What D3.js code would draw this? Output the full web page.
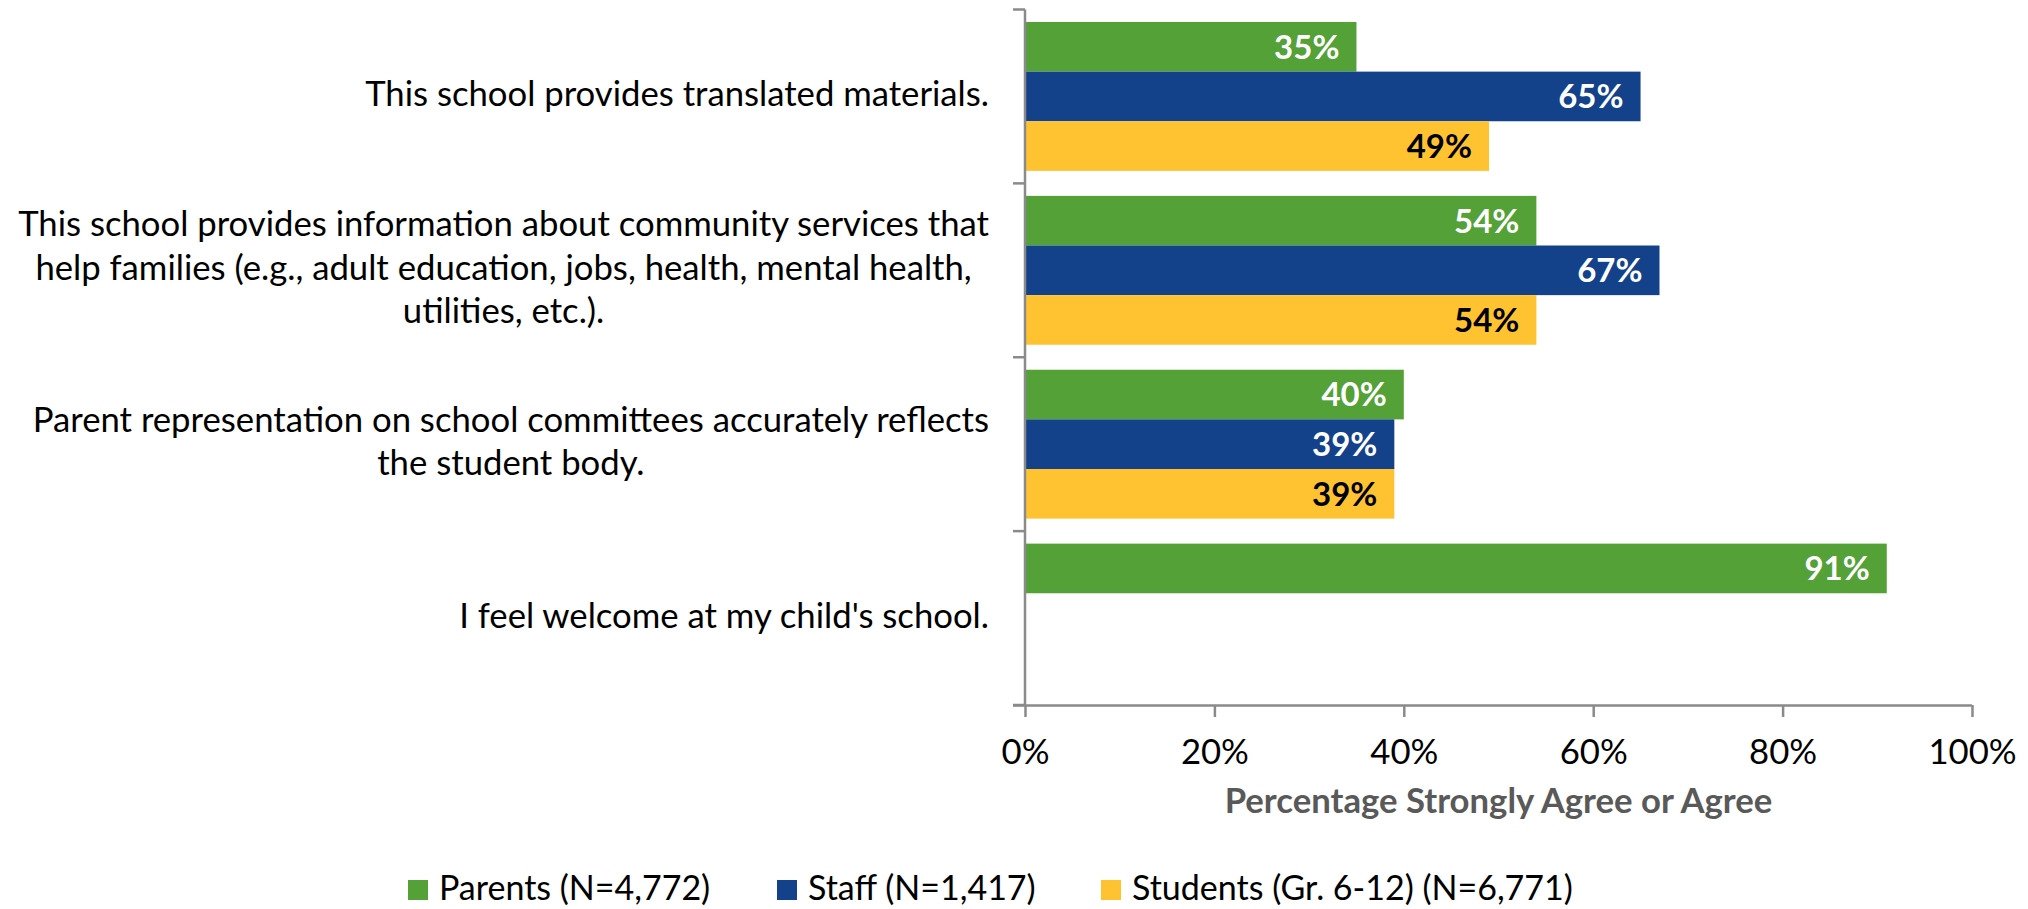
<!DOCTYPE html>
<html>
<head>
<meta charset="utf-8">
<script src="https://cdn.jsdelivr.net/npm/d3@7"></script>
<style>
  html, body { margin: 0; padding: 0; background: #ffffff; }
  svg { display: block; }
  text { font-family: Lato, "Open Sans", "DejaVu Sans", sans-serif; }
</style>
</head>
<body>
<svg id="chart" width="2028" height="909"></svg>
<script>
// ---- data ----
const categories = [
  "This school provides translated materials.",
  "This school provides information about community services that\nhelp families (e.g., adult education, jobs, health, mental health,\nutilities, etc.).",
  "Parent representation on school committees accurately reflects\nthe student body.",
  "I feel welcome at my child's school."
];
const seriesNames = ["Parents (N=4,772)", "Staff (N=1,417)", "Students (Gr. 6-12) (N=6,771)"];
const parents  = [35, 54, 40, 91];
const staff    = [65, 67, 39, null];
const students = [49, 54, 39, null];
const xTicks = [0, 20, 40, 60, 80, 100];
const xTickLabels = ["0%", "20%", "40%", "60%", "80%", "100%"];
const xAxisTitle = "Percentage Strongly Agree or Agree";

// ---- styles ----
const colors = ["#54A138", "#13428A", "#FFC331"];
const labelColors = ["#ffffff", "#ffffff", "#000000"];
const axisColor = "#8a8a8a";
const fs = 34.7;

const svg = d3.select("#chart");

const x = d3.scaleLinear().domain([0, 100]).range([1025, 1972]);
const y = d3.scaleBand().domain(d3.range(categories.length)).range([9.5, 705]).padding(0);
const inner = d3.scaleBand().domain(d3.range(3)).range([12.5, y.bandwidth() - 12.5]).padding(0);

const series = [parents, staff, students];

// bars
const gBars = svg.append("g");
series.forEach((vals, s) => {
  vals.forEach((v, i) => {
    if (v == null) return;
    const y0 = y(i) + inner(s);
    gBars.append("rect")
      .attr("x", x(0))
      .attr("y", y0)
      .attr("width", x(v) - x(0))
      .attr("height", inner.bandwidth())
      .attr("fill", colors[s]);
    gBars.append("text")
      .attr("x", x(v) - 17)
      .attr("y", y0 + inner.bandwidth() / 2)
      .attr("dy", "0.36em")
      .attr("text-anchor", "end")
      .attr("font-size", 33)
      .attr("font-weight", "bold")
      .attr("fill", labelColors[s])
      .text(v + "%");
  });
});

// x axis
const xAxis = d3.axisBottom(x).tickValues(xTicks).tickSize(12)
  .tickFormat((d, i) => xTickLabels[i]);
const gx = svg.append("g").attr("transform", "translate(0,705)").call(xAxis);
gx.select(".domain").attr("stroke", axisColor).attr("stroke-width", 2.5)
  .attr("d", `M${x(0) - 12},0.5H${x(100)}`);
gx.selectAll(".tick line").attr("stroke", axisColor).attr("stroke-width", 2.5);
gx.selectAll(".tick text").attr("font-size", fs).attr("fill", "#000")
  .attr("font-family", "Lato, 'Open Sans', sans-serif")
  .attr("y", 59).attr("dy", 0);

// y axis
const yBoundaries = d3.range(categories.length + 1).map(i => i < categories.length ? y(i) : y.range()[1]);
const gy = svg.append("g");
gy.append("line").attr("x1", x(0)).attr("x2", x(0)).attr("y1", yBoundaries[0]).attr("y2", 705)
  .attr("stroke", axisColor).attr("stroke-width", 2.5);
gy.selectAll("line.tk").data(yBoundaries).join("line").attr("class", "tk")
  .attr("x1", x(0) - 12).attr("x2", x(0)).attr("y1", d => d).attr("y2", d => d)
  .attr("stroke", axisColor).attr("stroke-width", 2.5);

// category labels
const lineH = 43.5;
categories.forEach((c, i) => {
  const lines = c.split("\n");
  const cy = y(i) + y.bandwidth() / 2 - 2;
  const g = svg.append("g");
  const t = g.append("text").attr("font-size", fs).attr("fill", "#000").attr("text-anchor", "middle");
  lines.forEach((ln, k) => {
    t.append("tspan").attr("x", 0)
      .attr("y", cy + (k - (lines.length - 1) / 2) * lineH)
      .attr("dy", "0.33em").text(ln);
  });
  let maxW = 0;
  t.selectAll("tspan").each(function() { maxW = Math.max(maxW, this.getComputedTextLength()); });
  t.selectAll("tspan").attr("x", 989 - maxW / 2);
});

// axis title
svg.append("text")
  .attr("x", (x(0) + x(100)) / 2).attr("y", 813)
  .attr("text-anchor", "middle").attr("font-size", fs).attr("font-weight", "bold")
  .attr("fill", "#595959").text(xAxisTitle);

// legend
const legendX = [408, 777, 1101];
seriesNames.forEach((n, s) => {
  svg.append("rect").attr("x", legendX[s]).attr("y", 880).attr("width", 20).attr("height", 20).attr("fill", colors[s]);
  svg.append("text").attr("x", legendX[s] + 31).attr("y", 900).attr("font-size", 34)
    .attr("fill", "#000").text(n);
});
</script>
</body>
</html>
